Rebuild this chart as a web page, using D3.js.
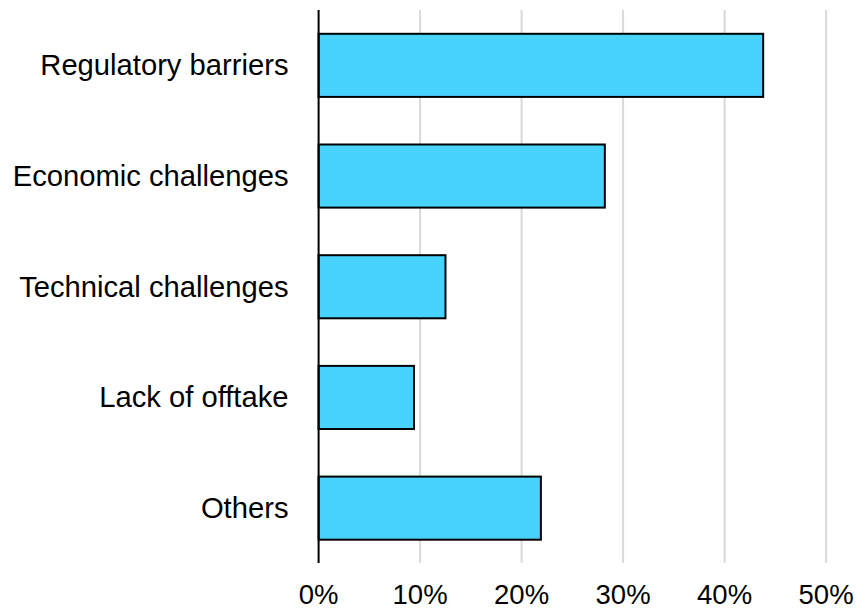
<!DOCTYPE html>
<html>
<head>
<meta charset="utf-8">
<script src="https://cdn.jsdelivr.net/npm/d3@7"></script>
<style>
  html, body { margin: 0; padding: 0; background: #fff; }
  svg { display: block; }
</style>
</head>
<body>
<svg id="chart" width="858" height="610"></svg>
<script>
const categories = ["Regulatory barriers", "Economic challenges", "Technical challenges", "Lack of offtake", "Others"];
const values = [43.8, 28.2, 12.5, 9.4, 21.9];
const tickValues = [0, 10, 20, 30, 40, 50];
const tickLabels = ["0%", "10%", "20%", "30%", "40%", "50%"];

const svg = d3.select("#chart");
const font = "Arial, 'Liberation Sans', sans-serif";

const x = d3.scaleLinear().domain([0, 50]).range([318.6, 826.1]);
const y = d3.scaleBand().domain(categories).range([10, 563.5]).paddingInner(0.43).paddingOuter(0.215);

// gridlines
svg.append("g").selectAll("line").data(tickValues.filter(d => d > 0)).join("line")
  .attr("x1", d => x(d)).attr("x2", d => x(d))
  .attr("y1", 10).attr("y2", 563)
  .attr("stroke", "#d9d9d9").attr("stroke-width", 2);

// bars
svg.append("g").selectAll("rect").data(categories).join("rect")
  .attr("x", x(0))
  .attr("y", d => y(d))
  .attr("width", (d, i) => x(values[i]) - x(0))
  .attr("height", y.bandwidth())
  .attr("fill", "#48D3FF")
  .attr("stroke", "#000")
  .attr("stroke-width", 2);

// y axis line
svg.append("line")
  .attr("x1", x(0)).attr("x2", x(0))
  .attr("y1", 10).attr("y2", 563)
  .attr("stroke", "#000").attr("stroke-width", 2);

// category labels
svg.append("g").selectAll("text").data(categories).join("text")
  .attr("x", 288.5)
  .attr("y", d => y(d) + y.bandwidth() / 2 + 10)
  .attr("text-anchor", "end")
  .attr("font-family", font)
  .attr("font-size", 29.2)
  .attr("fill", "#000")
  .text(d => d);

// x tick labels
svg.append("g").selectAll("text").data(tickValues).join("text")
  .attr("x", d => x(d))
  .attr("y", 604)
  .attr("text-anchor", "middle")
  .attr("font-family", font)
  .attr("font-size", 27.5)
  .attr("fill", "#000")
  .text((d, i) => tickLabels[i]);
</script>
</body>
</html>
